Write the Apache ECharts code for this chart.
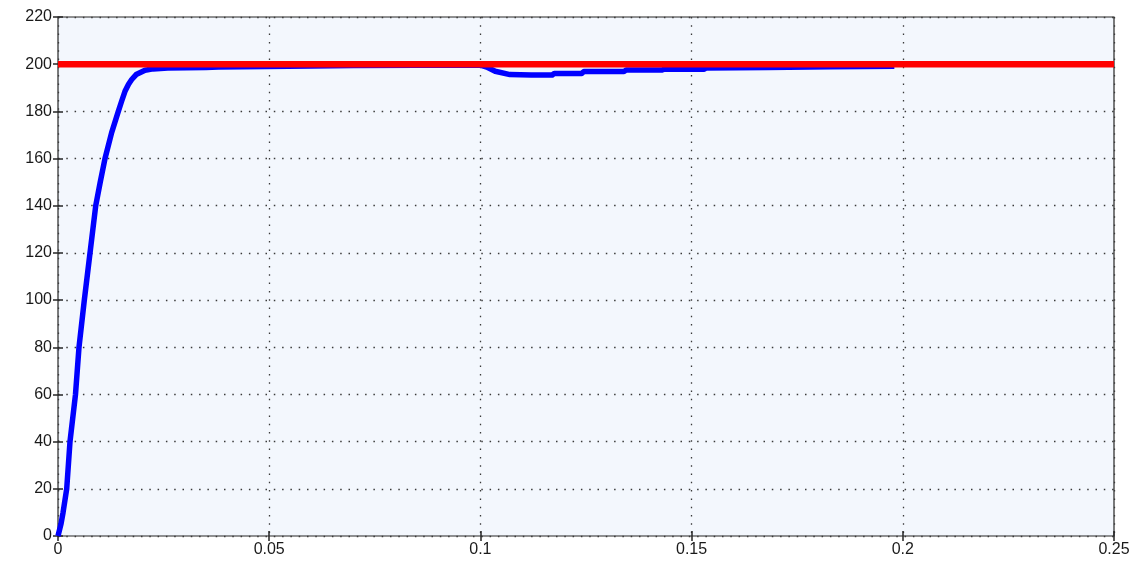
<!DOCTYPE html>
<html>
<head>
<meta charset="utf-8">
<script src="https://cdn.jsdelivr.net/npm/echarts@6/dist/echarts.min.js"></script>
<style>
  html, body { margin: 0; padding: 0; background: #ffffff; }
  #chart { width: 1148px; height: 562px; }
</style>
</head>
<body>
<div id="chart"></div>
<script>
// Speed response (s) and its constant reference
const time = [0, 0.0007, 0.0012, 0.00206, 0.00284, 0.00414, 0.00497, 0.00623, 0.00758, 0.00893,
  0.0100, 0.01113, 0.0127, 0.01428, 0.01508, 0.01586, 0.0167, 0.01745, 0.0185, 0.0206, 0.0225, 0.026,
  0.035, 0.038, 0.06, 0.07, 0.085, 0.1, 0.1015, 0.1035, 0.107, 0.112, 0.117, 0.1175,
  0.124, 0.1245, 0.134, 0.1345, 0.143, 0.1435, 0.153, 0.1535, 0.168, 0.183, 0.198];
const speed = [0, 5, 10, 20, 40, 60, 80, 100, 120, 140,
  150, 160, 171, 180, 184.4, 188.5, 191.5, 193.5, 195.6, 197.4, 198.0, 198.4,
  198.6, 198.8, 199.2, 199.4, 199.5, 199.6, 198.8, 197.0, 195.6, 195.4, 195.4, 196.1,
  196.1, 196.9, 196.9, 197.5, 197.5, 197.9, 197.9, 198.4, 198.6, 198.9, 199.1];
const refTime = [0, 0.25];
const refSpeed = [200, 200];
const xTicks = [0, 0.05, 0.1, 0.15, 0.2, 0.25];
const yMin = 0, yMax = 220, yStep = 20;

const pair = (xs, ys) => xs.map((x, i) => [x, ys[i]]);
const font = { fontFamily: 'Liberation Sans', fontSize: 16, color: '#1a1a1a' };

const chart = echarts.init(document.getElementById('chart'));
const tickStyle = { show: true, inside: true, length: 5, lineStyle: { color: '#262626', width: 1.5 } };
const grid = { left: 58, right: 34, top: 17, bottom: 26, show: true,
  backgroundColor: '#f3f7fd', borderColor: '#262626', borderWidth: 1.2 };
const dotted = { show: true, lineStyle: { color: '#3a3a3a', width: 1.3, type: [1.5, 6.8] } };

chart.setOption({
  animation: false,
  backgroundColor: '#ffffff',
  grid: grid,
  xAxis: [{
    type: 'value', min: xTicks[0], max: xTicks[xTicks.length - 1], interval: 0.05,
    axisLine: { show: false }, axisTick: tickStyle, splitLine: dotted,
    axisLabel: Object.assign({ margin: 6, formatter: v => String(+v.toFixed(2)) }, font)
  }, {
    type: 'value', position: 'top', min: 0, max: 0.25, interval: 0.05,
    axisLine: { show: false }, axisTick: tickStyle, splitLine: { show: false },
    axisLabel: { show: false }
  }],
  yAxis: [{
    type: 'value', min: yMin, max: yMax, interval: yStep,
    axisLine: { show: false }, axisTick: tickStyle, splitLine: dotted,
    axisLabel: Object.assign({ margin: 6 }, font)
  }, {
    type: 'value', position: 'right', min: yMin, max: yMax, interval: yStep,
    axisLine: { show: false }, axisTick: tickStyle, splitLine: { show: false },
    axisLabel: { show: false }
  }],
  series: [{
    type: 'line', data: pair(time, speed), showSymbol: false,
    lineStyle: { color: '#0000ff', width: 5.5, join: 'round' }, z: 3
  }, {
    type: 'line', data: pair(refTime, refSpeed), showSymbol: false,
    lineStyle: { color: '#ff0000', width: 6.5 }, z: 4
  }]
});
</script>
</body>
</html>
